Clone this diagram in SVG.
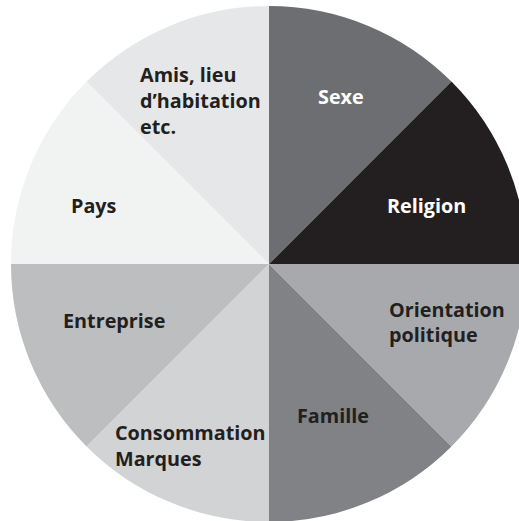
<svg xmlns="http://www.w3.org/2000/svg" width="519" height="521" viewBox="0 0 519 521">
<style>
text{font-family:"Open Sans","Liberation Sans",sans-serif;font-weight:bold;font-size:19.8px;fill:#231f20}
text.w{fill:#ffffff}
</style>
<rect width="519" height="521" fill="#ffffff"/>
<g id="sexe">
<path d="M269,264 L269,6 A258,258 0 0 1 451.43,81.57 Z" fill="#6d6e71"/>
<text class="w" x="318" y="104">Sexe</text>
</g>
<g id="religion">
<path d="M269,264 L451.43,81.57 A258,258 0 0 1 527,264 Z" fill="#231f20"/>
<text class="w" x="387" y="213">Religion</text>
</g>
<g id="orientation">
<path d="M269,264 L527,264 A258,258 0 0 1 451.43,446.43 Z" fill="#a7a9ac"/>
<text x="389" y="317">Orientation</text>
<text x="389" y="342">politique</text>
</g>
<g id="famille">
<path d="M269,264 L451.43,446.43 A258,258 0 0 1 269,522 Z" fill="#808285"/>
<text x="297" y="423">Famille</text>
</g>
<g id="consommation">
<path d="M269,264 L269,522 A258,258 0 0 1 86.57,446.43 Z" fill="#d1d3d4"/>
<text x="115" y="440">Consommation</text>
<text x="115" y="466">Marques</text>
</g>
<g id="entreprise">
<path d="M269,264 L86.57,446.43 A258,258 0 0 1 11,264 Z" fill="#bcbec0"/>
<text x="63" y="328">Entreprise</text>
</g>
<g id="pays">
<path d="M269,264 L11,264 A258,258 0 0 1 86.57,81.57 Z" fill="#f1f2f2"/>
<text x="71" y="213">Pays</text>
</g>
<g id="amis">
<path d="M269,264 L86.57,81.57 A258,258 0 0 1 269,6 Z" fill="#e6e7e8"/>
<text x="140" y="82">Amis, lieu</text>
<text x="140" y="108">d’habitation</text>
<text x="140" y="134">etc.</text>
</g>
<g id="connectors"/>
</svg>
